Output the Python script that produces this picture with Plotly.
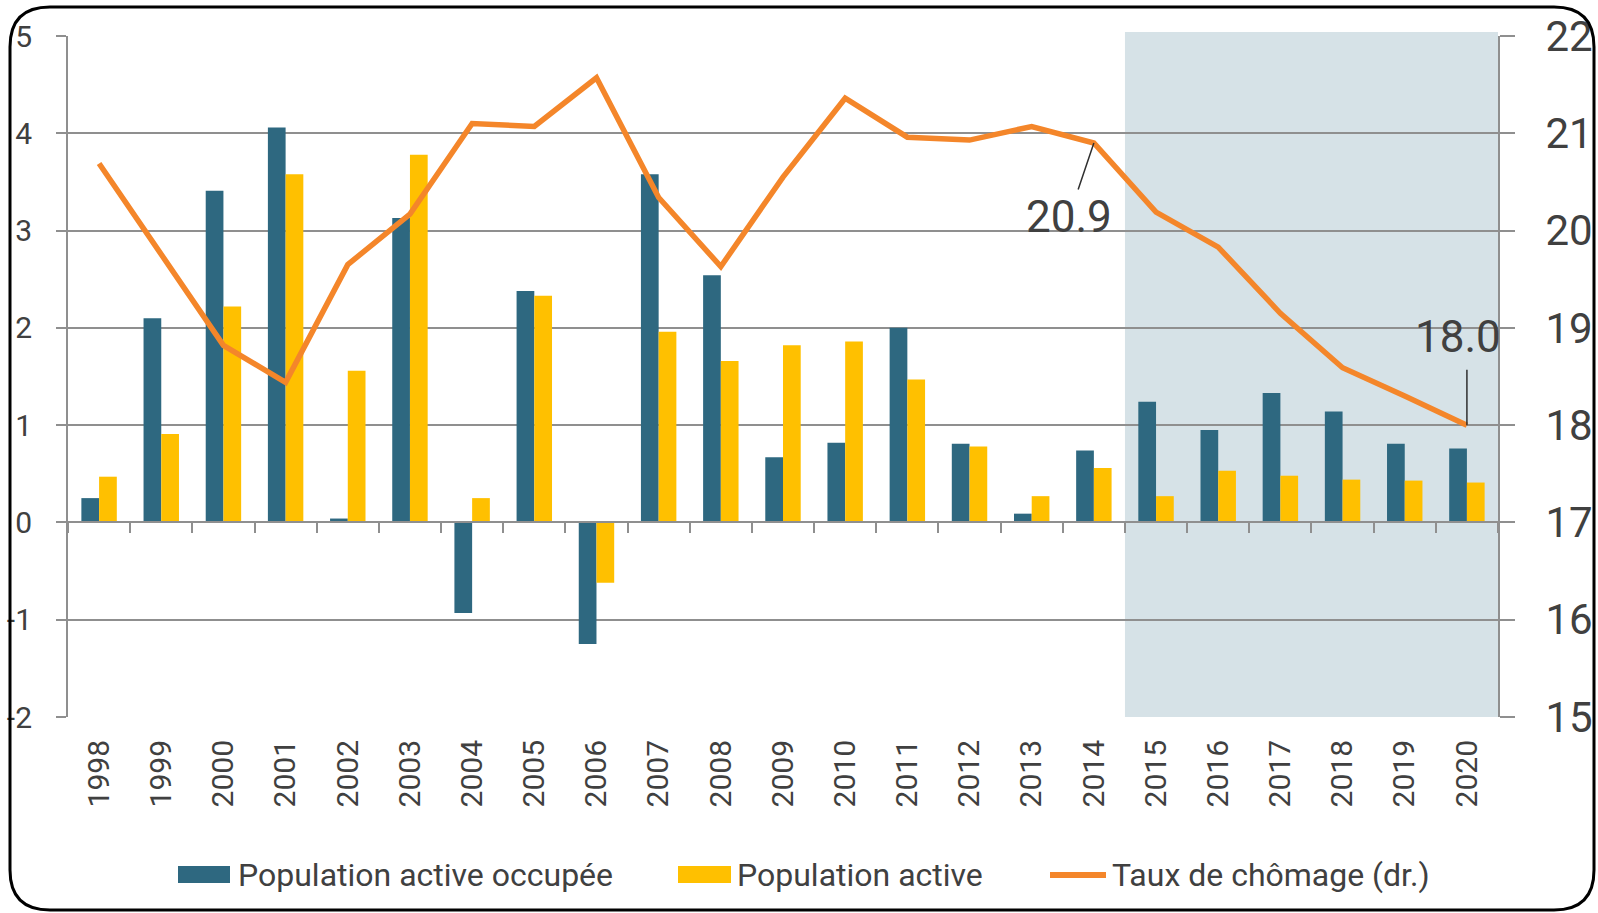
import plotly.graph_objects as go

years = [str(y) for y in range(1998, 2021)]
occupee = [0.25, 2.10, 3.41, 4.06, 0.04, 3.13, -0.93, 2.38, -1.25, 3.58, 2.54, 0.67, 0.82,
           2.00, 0.81, 0.09, 0.74, 1.24, 0.95, 1.33, 1.14, 0.81, 0.76]
active = [0.47, 0.91, 2.22, 3.58, 1.56, 3.78, 0.25, 2.33, -0.62, 1.96, 1.66, 1.82, 1.86,
          1.47, 0.78, 0.27, 0.56, 0.27, 0.53, 0.48, 0.44, 0.43, 0.41]
chomage = [20.69, 19.76, 18.82, 18.44, 19.65, 20.17, 21.10, 21.07, 21.57, 20.34, 19.63, 20.55,
           21.36, 20.96, 20.93, 21.07, 20.9, 20.19, 19.83, 19.15, 18.59, 18.30, 18.0]
left_ticks = [-2, -1, 0, 1, 2, 3, 4, 5]
right_ticks = [15, 16, 17, 18, 19, 20, 21, 22]
names = ["Population active occupée", "Population active", "Taux de chômage (dr.)"]
labelled = [16, 22]  # indices of the labelled points (2014, 2020)

DARK = "#2E6880"
YEL = "#FFC000"
ORA = "#F4862A"
GRID = "#8F8F8F"
TXT = "#404040"
FONT = "Roboto"

W, H = 1598, 913
L, R, T, B = 68, 100, 36, 196
PW, PH = W - L - R, H - T - B


def px(x):
    return (x - L) / PW


def py(y):
    return (H - B - y) / PH


fig = go.Figure()
fig.add_trace(go.Bar(x=years, y=occupee, name=names[0], marker=dict(color=DARK, line=dict(width=0)),
                     showlegend=False))
fig.add_trace(go.Bar(x=years, y=active, name=names[1], marker=dict(color=YEL, line=dict(width=0)),
                     showlegend=False))
fig.add_trace(go.Scatter(x=years, y=chomage, name=names[2], mode="lines", yaxis="y2",
                         line=dict(color=ORA, width=5.5), showlegend=False))
# dummy trace for the zero-crossing category axis (ticks only)
fig.add_trace(go.Scatter(x=years, y=[None] * len(years), xaxis="x2", showlegend=False,
                         hoverinfo="skip", mode="lines"))

shapes = []
# shaded forecast region
shapes.append(dict(type="rect", xref="x", yref="paper", x0=16.5, x1=22.5, y0=0, y1=py(32),
                   fillcolor="#D6E2E7", line=dict(width=0), layer="below"))

# outer rounded border
x0, y0, x1, y1, r = 10, 7, 1594, 910, 40
path = (f"M {px(x0 + r)},{py(y0)} L {px(x1 - r)},{py(y0)} Q {px(x1)},{py(y0)} {px(x1)},{py(y0 + r)} "
        f"L {px(x1)},{py(y1 - r)} Q {px(x1)},{py(y1)} {px(x1 - r)},{py(y1)} "
        f"L {px(x0 + r)},{py(y1)} Q {px(x0)},{py(y1)} {px(x0)},{py(y1 - r)} "
        f"L {px(x0)},{py(y0 + r)} Q {px(x0)},{py(y0)} {px(x0 + r)},{py(y0)} Z")
shapes.append(dict(type="path", xref="paper", yref="paper", path=path,
                   line=dict(color="black", width=3), layer="above"))

# custom legend symbols
ly = 875
shapes.append(dict(type="rect", xref="paper", yref="paper", x0=px(178), x1=px(230), y0=py(883), y1=py(866),
                   fillcolor=DARK, line=dict(width=0)))
shapes.append(dict(type="rect", xref="paper", yref="paper", x0=px(678), x1=px(731), y0=py(883), y1=py(866),
                   fillcolor=YEL, line=dict(width=0)))
shapes.append(dict(type="line", xref="paper", yref="paper", x0=px(1050), x1=px(1106), y0=py(ly), y1=py(ly),
                   line=dict(color=ORA, width=6)))

annotations = []
for xs, t in [(236, names[0]), (735, names[1]), (1110, names[2])]:
    annotations.append(dict(xref="paper", yref="paper", x=px(xs), y=py(ly), text=t, showarrow=False,
                            xanchor="left", yanchor="middle", font=dict(family=FONT, size=32, color=TXT)))

# data labels: text placement offsets and leader line offsets (pixels)
text_off = {16: (-25, 74), 22: (-9, -88)}
lead_off = {16: (-25, 74), 22: (0, -58)}
for i in labelled:
    tx, ty = text_off[i]
    lx, lyy = lead_off[i]
    annotations.append(dict(x=i, y=chomage[i], xref="x", yref="y2", text=f"{chomage[i]:.1f}",
                            showarrow=True, arrowhead=0, arrowwidth=1.5,
                            arrowcolor="#303030" if i == 16 else "rgba(0,0,0,0)",
                            ax=tx, ay=ty, font=dict(family=FONT, size=44, color=TXT)))
    if i == 22:
        annotations.append(dict(x=i, y=chomage[i], xref="x", yref="y2", text=" ",
                                showarrow=True, arrowhead=0, arrowwidth=1.5, arrowcolor="#303030",
                                ax=lx, ay=lyy, font=dict(family=FONT, size=2, color=TXT)))

fig.update_layout(
    template="none",
    width=W, height=H,
    margin=dict(l=L, r=R, t=T, b=B, pad=0),
    paper_bgcolor="white", plot_bgcolor="white",
    barmode="group", bargap=0.43, bargroupgap=0,
    font=dict(family=FONT, color=TXT),
    showlegend=False,
    xaxis=dict(type="category", categoryorder="array", categoryarray=years, range=[-0.5, 22.5],
               showgrid=False, zeroline=False, showline=False, ticks="", tickangle=-90,
               tickfont=dict(family=FONT, size=30, color=TXT), ticklabelstandoff=16, automargin=False),
    xaxis2=dict(type="category", categoryorder="array", categoryarray=years, range=[-0.5, 22.5],
                overlaying="x", anchor="free", position=2 / 7, showgrid=False, zeroline=False,
                showline=True, linecolor=GRID, linewidth=2, ticks="outside", tickson="boundaries",
                ticklen=10, tickcolor=GRID, tickwidth=2, showticklabels=False, automargin=False),
    yaxis=dict(range=[-2, 5], tickvals=left_ticks, ticktext=[str(v) for v in left_ticks],
               showgrid=True, gridcolor=GRID, gridwidth=2, zeroline=False,
               showline=True, linecolor=GRID, linewidth=2, ticks="outside", ticklen=10,
               tickcolor=GRID, tickwidth=2, tickfont=dict(family=FONT, size=30, color=TXT),
               ticklabelstandoff=18, automargin=False),
    yaxis2=dict(range=[15, 22], tickvals=right_ticks, overlaying="y", side="right",
                showgrid=False, zeroline=False, showline=True, linecolor=GRID, linewidth=2,
                ticks="outside", ticklen=15, tickcolor=GRID, tickwidth=2,
                tickfont=dict(family=FONT, size=42, color=TXT),
                ticklabelstandoff=22, automargin=False),
    shapes=shapes,
    annotations=annotations,
)

fig.write_html("out.html", config={"displayModeBar": False},
               post_script="document.body.style.margin='0';document.body.style.overflow='hidden';")
